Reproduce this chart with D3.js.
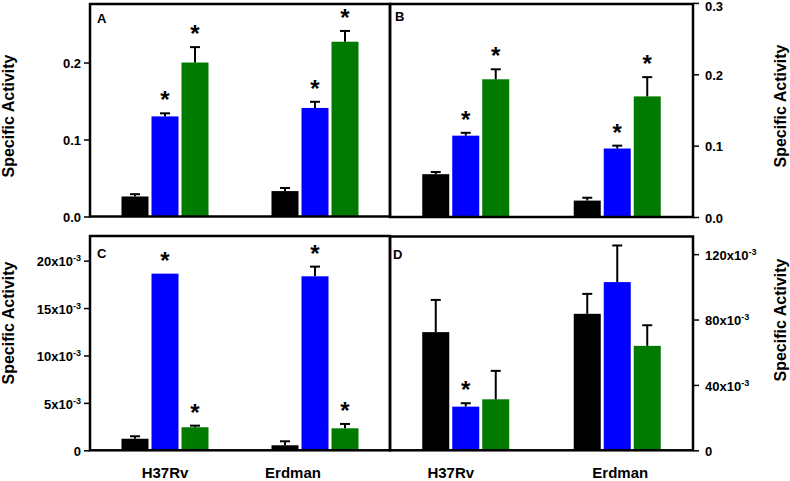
<!DOCTYPE html>
<html>
<head>
<meta charset="utf-8">
<script src="https://d3js.org/d3.v7.min.js"></script>
<style>
  body { margin: 0; background: #fff; }
  svg { display: block; font-family: "Liberation Sans", Arial, sans-serif; }
  .tick text { font-size: 13px; font-weight: bold; fill: #000; }
  .tick line { stroke: #000; stroke-width: 1.5px; }
  .axis-title { font-size: 16px; font-weight: bold; }
  .panel-letter { font-size: 13px; font-weight: bold; }
  .cat-label { font-size: 15px; font-weight: bold; }
  .star { font-size: 24px; font-weight: bold; }
</style>
</head>
<body>
<script>
// strains on the x axis, three bars each (black, blue, green)
const groups = ['H37Rv', 'Erdman'];
const seriesColors = ['#000000', '#0000ff', '#007a00'];

// panel A
const valuesA = [[0.026, 0.130, 0.200], [0.033, 0.141, 0.227]];
const errorsA = [[0.003, 0.004, 0.020], [0.004, 0.008, 0.014]];
const starsA = [[false, true, true], [false, true, true]];
const ticksA = [0, 0.1, 0.2];

// panel B
const valuesB = [[0.060, 0.114, 0.193], [0.023, 0.096, 0.169]];
const errorsB = [[0.003, 0.004, 0.014], [0.004, 0.004, 0.027]];
const starsB = [[false, true, true], [false, true, true]];
const ticksB = [0, 0.1, 0.2, 0.3];

// panel C
const valuesC = [[1.22e-3, 18.63e-3, 2.43e-3], [0.53e-3, 18.35e-3, 2.32e-3]];
const errorsC = [[0.26e-3, 0, 0.17e-3], [0.42e-3, 1.02e-3, 0.46e-3]];
const starsC = [[false, true, true], [false, true, true]];
const ticksC = [0, 5e-3, 10e-3, 15e-3, 20e-3];

// panel D
const valuesD = [[72.3e-3, 26.7e-3, 31.2e-3], [83.5e-3, 102.9e-3, 63.9e-3]];
const errorsD = [[19.7e-3, 2.1e-3, 17.4e-3], [12.2e-3, 22.4e-3, 12.6e-3]];
const starsD = [[false, true, false], [false, false, false]];
const ticksD = [0, 40e-3, 80e-3, 120e-3];

const W = 790, H = 481;

const svg = d3.select('body').append('svg')
    .attr('width', W)
    .attr('height', H);

const decimalFmt = d3.format('.1f');

const panels = [
    { letter: 'A', values: valuesA, errors: errorsA, stars: starsA, ticks: ticksA, yMax: 0.276, sci: false,
      box: { x0: 90, x1: 390, y0: 4, y1: 216.5 }, side: 'left', titleY: 116, letterPos: [97, 23] },
    { letter: 'B', values: valuesB, errors: errorsB, stars: starsB, ticks: ticksB, yMax: 0.2985, sci: false,
      box: { x0: 390, x1: 693, y0: 4, y1: 217 }, side: 'right', titleY: 106, letterPos: [395, 21] },
    { letter: 'C', values: valuesC, errors: errorsC, stars: starsC, ticks: ticksC, yMax: 0.0226, sci: true,
      box: { x0: 90, x1: 390, y0: 236, y1: 450.3 }, side: 'left', titleY: 323, letterPos: [97, 258],
      labelShift: [0, -22] },
    { letter: 'D', values: valuesD, errors: errorsD, stars: starsD, ticks: ticksD, yMax: 0.1308, sci: true,
      box: { x0: 390, x1: 693, y0: 236.5, y1: 450.3 }, side: 'right', titleY: 320, letterPos: [393, 259],
      labelShift: [-15, 3] }
];

panels.forEach(p => drawPanel(p));

function drawPanel(p) {
    let b = p.box;

    let y = d3.scaleLinear()
        .domain([0, p.yMax])
        .range([b.y1, b.y0]);

    let x = d3.scalePoint()
        .domain(groups)
        .range([b.x0, b.x1])
        .padding(0.5);

    let xSeries = d3.scaleBand()
        .domain([0, 1, 2])
        .range([-43.5, 43.5])
        .paddingInner(0.1);

    let rows = [];
    groups.forEach((g, gi) => {
        p.values[gi].forEach((v, si) => {
            rows.push({ g: g, s: si, v: v, e: p.errors[gi][si], star: p.stars[gi][si] });
        });
    });

    let g = svg.append('g').attr('class', 'panel-' + p.letter);

    // bars
    g.selectAll('.bar')
        .data(rows)
        .join('rect')
            .attr('class', 'bar')
            .attr('x', d => x(d.g) + xSeries(d.s))
            .attr('width', xSeries.bandwidth())
            .attr('y', d => y(d.v))
            .attr('height', d => y(0) - y(d.v))
            .attr('fill', d => seriesColors[d.s]);

    // upper error bars only
    let cx = d => x(d.g) + xSeries(d.s) + xSeries.bandwidth() / 2;
    let withErr = rows.filter(d => d.e > 0);

    g.selectAll('.err')
        .data(withErr)
        .join('line')
            .attr('class', 'err')
            .attr('x1', cx).attr('x2', cx)
            .attr('y1', d => y(d.v))
            .attr('y2', d => y(d.v + d.e))
            .attr('stroke', '#000')
            .attr('stroke-width', 2);

    g.selectAll('.cap')
        .data(withErr)
        .join('line')
            .attr('class', 'cap')
            .attr('x1', d => cx(d) - 5).attr('x2', d => cx(d) + 5)
            .attr('y1', d => y(d.v + d.e))
            .attr('y2', d => y(d.v + d.e))
            .attr('stroke', '#000')
            .attr('stroke-width', 2);

    // significance asterisks
    g.selectAll('.star')
        .data(rows.filter(d => d.star))
        .join('text')
            .attr('class', 'star')
            .attr('text-anchor', 'middle')
            .attr('x', cx)
            .attr('y', d => y(d.v + d.e) - 5)
            .text('*');

    // frame
    g.append('rect')
        .attr('x', b.x0)
        .attr('y', b.y0)
        .attr('width', b.x1 - b.x0)
        .attr('height', b.y1 - b.y0)
        .attr('fill', 'none')
        .attr('stroke', '#000')
        .attr('stroke-width', 2.5);

    // y axis
    let axis = (p.side === 'left' ? d3.axisLeft(y) : d3.axisRight(y))
        .tickValues(p.ticks)
        .tickSize(6)
        .tickPadding(p.side === 'left' ? 3 : 6)
        .tickFormat(d => p.sci ? '' : decimalFmt(d));

    let axisG = g.append('g')
        .attr('class', 'axis')
        .attr('transform', `translate(${p.side === 'left' ? b.x0 : b.x1},0)`)
        .call(axis);
    axisG.select('.domain').remove();
    // labels right at the top edge sit a bit lower so they stay inside the page
    axisG.selectAll('text')
        .attr('font-family', null)
        .attr('font-size', null)
        .attr('dy', d => y(d) < 8 ? '0.62em' : '0.4em');

    if (p.sci) {
        axisG.selectAll('.tick text').each(function(d) {
            let t = d3.select(this);
            let m = Math.round(d * 1000);
            if (m === 0) {
                t.text('0');
                return;
            }
            t.append('tspan').text(m + 'x10');
            t.append('tspan')
                .attr('dy', -5)
                .style('font-size', '9px')
                .text('-3');
        });
    }

    // axis title
    let tx = p.side === 'left' ? 14 : 786;
    g.append('text')
        .attr('class', 'axis-title')
        .attr('text-anchor', 'middle')
        .attr('transform', `translate(${tx},${p.titleY}) rotate(-90)`)
        .text('Specific Activity');

    // panel letter
    g.append('text')
        .attr('class', 'panel-letter')
        .attr('x', p.letterPos[0])
        .attr('y', p.letterPos[1])
        .text(p.letter);

    // strain labels under the bottom row
    if (p.labelShift) {
        g.selectAll('.cat-label')
            .data(groups)
            .join('text')
                .attr('class', 'cat-label')
                .attr('text-anchor', 'middle')
                .attr('x', (d, i) => x(d) + p.labelShift[i])
                .attr('y', 478)
                .text(d => d);
    }
}
</script>
</body>
</html>
